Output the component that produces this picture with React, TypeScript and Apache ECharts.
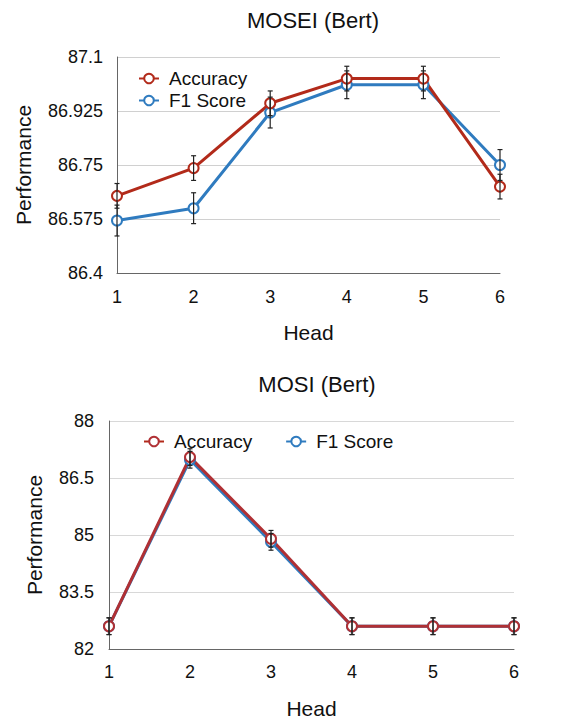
import React, { useEffect, useRef } from "react";
import * as echarts from "echarts";

const heads = [1, 2, 3, 4, 5, 6];

const moseiAccuracy = [86.65, 86.74, 86.95, 87.03, 87.03, 86.68];
const moseiF1 = [86.57, 86.61, 86.92, 87.01, 87.01, 86.75];
const moseiAccuracyErr = [0.04, 0.04, 0.04, 0.04, 0.04, 0.04];
const moseiF1Err = [0.05, 0.05, 0.05, 0.045, 0.045, 0.05];

const mosiAccuracy = [82.6, 87.05, 84.9, 82.6, 82.6, 82.6];
const mosiF1 = [82.6, 86.98, 84.82, 82.6, 82.6, 82.6];
const mosiAccuracyErr = [0.22, 0.22, 0.22, 0.22, 0.22, 0.22];
const mosiF1Err = [0.22, 0.22, 0.22, 0.22, 0.22, 0.22];

const seriesNames = ["Accuracy", "F1 Score"];
const titles = ["MOSEI (Bert)", "MOSI (Bert)"];

const FONT = "Liberation Sans, Arial, Helvetica, sans-serif";
const RED1 = "#b22a1a";
const BLUE = "#2f7bbf";
const RED2 = "#b03034";

function fmt(v: number) {
  return String(parseFloat(v.toFixed(3)));
}

function errRender(params: any, api: any) {
  const x = api.value(0);
  const y = api.value(1);
  const e = api.value(2);
  const top = api.coord([x, y + e]);
  const bot = api.coord([x, y - e]);
  const w = 2.5;
  const style = { stroke: "#222", lineWidth: 1.2 };
  return {
    type: "group",
    children: [
      { type: "line", shape: { x1: top[0], y1: top[1], x2: bot[0], y2: bot[1] }, style },
      { type: "line", shape: { x1: top[0] - w, y1: top[1], x2: top[0] + w, y2: top[1] }, style },
      { type: "line", shape: { x1: bot[0] - w, y1: bot[1], x2: bot[0] + w, y2: bot[1] }, style },
    ],
  };
}

function lineSeries(name: string, vals: number[], color: string, idx: number) {
  return {
    type: "line",
    name,
    xAxisIndex: idx,
    yAxisIndex: idx,
    data: heads.map((h, i) => [h, vals[i]]),
    symbol: "emptyCircle",
    symbolSize: 10,
    showAllSymbol: true,
    lineStyle: { width: 3, color },
    itemStyle: { color, borderColor: color, borderWidth: 3 },
    clip: false,
  };
}

function errSeries(vals: number[], errs: number[], idx: number, key: string) {
  return {
    type: "custom",
    name: key,
    xAxisIndex: idx,
    yAxisIndex: idx,
    data: heads.map((h, i) => [h, vals[i], errs[i]]),
    encode: { x: 0, y: 1 },
    renderItem: errRender,
    z: 10,
    clip: false,
  };
}

export default function App() {
  const ref = useRef<HTMLDivElement>(null);
  useEffect(() => {
    if (!ref.current) return;
    const chart = echarts.init(ref.current, undefined, { renderer: "svg" });
    const axisLabel = { fontFamily: FONT, fontSize: 18, color: "#111" };
    const nameStyle = { fontFamily: FONT, fontSize: 21, color: "#111" };
    const legendText = { fontFamily: FONT, fontSize: 19, color: "#111", padding: [0, 0, 0, 5] };
    const option: any = {
      animation: false,
      backgroundColor: "#fff",
      title: [
        {
          text: titles[0],
          left: 308,
          top: 4,
          textAlign: "center",
          textStyle: { fontFamily: FONT, fontSize: 22, fontWeight: "normal", color: "#111" },
        },
        {
          text: titles[1],
          left: 312,
          top: 368,
          textAlign: "center",
          textStyle: { fontFamily: FONT, fontSize: 22, fontWeight: "normal", color: "#111" },
        },
      ],
      legend: [
        {
          orient: "vertical",
          left: 133,
          top: 64,
          itemWidth: 20,
          itemHeight: 12,
          itemGap: 3,
          data: [
            { name: seriesNames[0], itemStyle: { color: RED1 } },
            { name: seriesNames[1], itemStyle: { color: BLUE } },
          ],
          textStyle: legendText,
        },
        {
          orient: "horizontal",
          left: 138,
          top: 427,
          itemWidth: 20,
          itemHeight: 12,
          itemGap: 33,
          data: [
            { name: seriesNames[0], itemStyle: { color: RED2 } },
            { name: seriesNames[1], itemStyle: { color: BLUE } },
          ],
          textStyle: legendText,
        },
      ],
      grid: [
        { left: 117, top: 57, width: 383, height: 216 },
        { left: 109, top: 421, width: 405, height: 228 },
      ],
      xAxis: [0, 1].map((i) => ({
        type: "value",
        gridIndex: i,
        min: 1,
        max: 6,
        interval: 1,
        name: "Head",
        nameLocation: "middle",
        nameGap: i === 0 ? 49 : 49,
        nameTextStyle: nameStyle,
        axisLine: { show: true, lineStyle: { color: "#666", width: 1 } },
        axisTick: { show: false },
        splitLine: { show: false },
        axisLabel: { ...axisLabel, margin: i === 0 ? 15 : 14 },
      })),
      yAxis: [
        {
          type: "value",
          gridIndex: 0,
          min: 86.4,
          max: 87.1,
          interval: 0.175,
          name: "Performance",
          nameLocation: "middle",
          nameRotate: 90,
          nameGap: 83,
          nameTextStyle: nameStyle,
          axisLine: { show: true, lineStyle: { color: "#666", width: 1 } },
          axisTick: { show: false },
          splitLine: { show: true, lineStyle: { color: "#d0d0d0", width: 1 } },
          axisLabel: { ...axisLabel, margin: 14, formatter: (v: number) => fmt(v) },
        },
        {
          type: "value",
          gridIndex: 1,
          min: 82,
          max: 88,
          interval: 1.5,
          name: "Performance",
          nameLocation: "middle",
          nameRotate: 90,
          nameGap: 64,
          nameTextStyle: nameStyle,
          axisLine: { show: true, lineStyle: { color: "#666", width: 1 } },
          axisTick: { show: false },
          splitLine: { show: true, lineStyle: { color: "#d8d8d8", width: 1 } },
          axisLabel: { ...axisLabel, margin: 15, formatter: (v: number) => fmt(v) },
        },
      ],
      series: [
        lineSeries(seriesNames[1], moseiF1, BLUE, 0),
        lineSeries(seriesNames[0], moseiAccuracy, RED1, 0),
        errSeries(moseiF1, moseiF1Err, 0, "e1"),
        errSeries(moseiAccuracy, moseiAccuracyErr, 0, "e2"),
        lineSeries(seriesNames[1], mosiF1, BLUE, 1),
        lineSeries(seriesNames[0], mosiAccuracy, RED2, 1),
        errSeries(mosiF1, mosiF1Err, 1, "e3"),
        errSeries(mosiAccuracy, mosiAccuracyErr, 1, "e4"),
      ],
    };
    chart.setOption(option);
    return () => chart.dispose();
  }, []);
  return (
    <div
      ref={ref}
      style={{ position: "fixed", left: 0, top: 0, width: 565, height: 721, background: "#fff" }}
    />
  );
}
